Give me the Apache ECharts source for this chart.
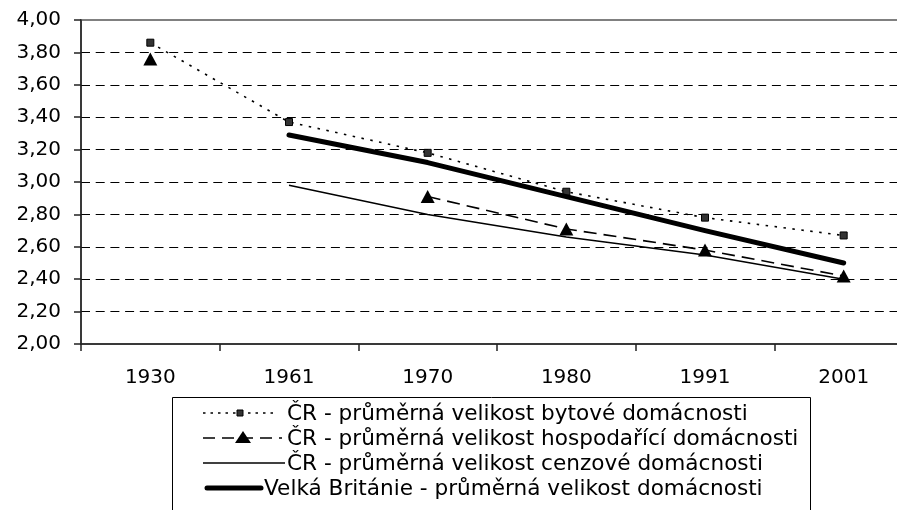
<!DOCTYPE html>
<html>
<head>
<meta charset="utf-8">
<script src="https://cdn.jsdelivr.net/npm/echarts@6/dist/echarts.min.js"></script>
<style>
html,body{margin:0;padding:0;background:#fff;overflow:hidden;}
#c{width:930px;height:510px;}
</style>
</head>
<body>
<div id="c"></div>
<script>
const categories = ['1930', '1961', '1970', '1980', '1991', '2001'];
const bytova = [3.86, 3.37, 3.18, 2.94, 2.78, 2.67];
const hospodarici = [3.76, null, 2.91, 2.71, 2.58, 2.42];
const cenzova = [null, 2.98, 2.80, 2.66, 2.55, 2.40];
const britanie = [null, 3.29, 3.12, 2.91, 2.70, 2.50];
const seriesNames = [
  'ČR - průměrná velikost bytové domácnosti',
  'ČR - průměrná velikost hospodařící domácnosti',
  'ČR - průměrná velikost cenzové domácnosti',
  'Velká Británie - průměrná velikost domácnosti'
];
const yMin = 2, yMax = 4, yStep = 0.2;

const FONT = '"DejaVu Sans", sans-serif';
const chart = echarts.init(document.getElementById('c'));

// legend drawn as graphic (box partially cropped at bottom like the reference)
const lx0 = 203, rowY = [413, 438, 463, 488];
const legendEls = [
  { type: 'rect', shape: { x: 172.5, y: 397.5, width: 638, height: 140 },
    style: { fill: '#fff', stroke: '#000', lineWidth: 1 }, z: 10 },
  // row 1 dotted + square
  { type: 'line', shape: { x1: lx0, y1: rowY[0], x2: 278, y2: rowY[0] },
    style: { stroke: '#000', lineWidth: 1.5, lineDash: [2.5, 5] }, z: 11 },
  { type: 'rect', shape: { x: 237, y: rowY[0] - 3, width: 6, height: 6 },
    style: { fill: '#333', stroke: '#000', lineWidth: 1 }, z: 12 },
  // row 2 dashed + triangle
  { type: 'line', shape: { x1: lx0, y1: rowY[1], x2: 282, y2: rowY[1] },
    style: { stroke: '#000', lineWidth: 1.5, lineDash: [12, 7] }, z: 11 },
  { type: 'polygon', shape: { points: [[243, rowY[1] - 7], [251, rowY[1] + 5], [235, rowY[1] + 5]] },
    style: { fill: '#000' }, z: 12 },
  // row 3 thin solid
  { type: 'line', shape: { x1: lx0, y1: rowY[2], x2: 285, y2: rowY[2] },
    style: { stroke: '#000', lineWidth: 1.5 }, z: 11 },
  // row 4 thick solid
  { type: 'line', shape: { x1: 207, y1: rowY[3], x2: 261, y2: rowY[3] },
    style: { stroke: '#000', lineWidth: 5, lineCap: 'round' }, z: 11 }
];
const textX = [287, 287, 287, 264];
seriesNames.forEach((n, i) => {
  legendEls.push({ type: 'text', x: textX[i], y: rowY[i] + 1, z: 12,
    style: { text: n, fill: '#000', font: '21.6px ' + FONT, textVerticalAlign: 'middle', textAlign: 'left' } });
});

chart.setOption({
  backgroundColor: '#fff',
  animation: false,
  grid: { left: 81, top: 20, width: 832, height: 324, show: true, borderColor: '#808080', borderWidth: 2, backgroundColor: 'transparent' },
  xAxis: {
    type: 'category',
    data: categories,
    boundaryGap: true,
    axisLine: { lineStyle: { color: '#222', width: 1.5 } },
    axisTick: { show: true, length: 7, inside: false, lineStyle: { color: '#222', width: 1.5 } },
    axisLabel: { color: '#000', fontFamily: FONT, fontSize: 20, margin: 24 },
    splitLine: { show: false }
  },
  yAxis: {
    type: 'value',
    min: yMin, max: yMax, interval: yStep,
    axisLine: { show: true, lineStyle: { color: '#222', width: 1.5 } },
    axisTick: { show: true, length: 7, lineStyle: { color: '#222', width: 1.5 } },
    axisLabel: { color: '#000', fontFamily: FONT, fontSize: 20, margin: 20,
      formatter: v => v.toFixed(2).replace('.', ',') },
    splitLine: { show: true, showMinLine: false, showMaxLine: false,
      lineStyle: { color: '#000', width: 1, type: [9, 5.7] } }
  },
  series: [
    { name: seriesNames[0], type: 'line', data: bytova, z: 4,
      symbol: 'rect', symbolSize: 7, showSymbol: true,
      itemStyle: { color: '#333', borderColor: '#000', borderWidth: 1 },
      lineStyle: { color: '#000', width: 1.6, type: [2.5, 6.5] } },
    { name: seriesNames[1], type: 'line', data: hospodarici, z: 3, connectNulls: false,
      symbol: 'triangle', symbolSize: [14, 13], showSymbol: true,
      itemStyle: { color: '#000' },
      lineStyle: { color: '#000', width: 1.6, type: [13, 7] } },
    { name: seriesNames[2], type: 'line', data: cenzova, z: 2,
      symbol: 'none',
      lineStyle: { color: '#000', width: 1.5 } },
    { name: seriesNames[3], type: 'line', data: britanie, z: 5,
      symbol: 'none',
      lineStyle: { color: '#000', width: 5, cap: 'round', join: 'round' } }
  ],
  graphic: legendEls
});
</script>
</body>
</html>
